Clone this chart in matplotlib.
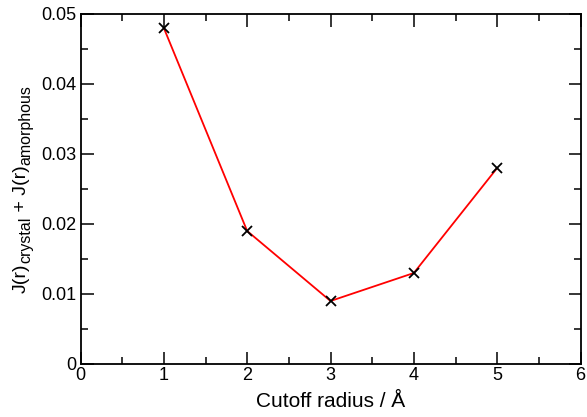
import matplotlib
matplotlib.use("Agg")
import matplotlib.pyplot as plt
from matplotlib.ticker import MultipleLocator

plt.rcParams['font.family'] = ['Liberation Sans', 'DejaVu Sans']

cutoff = [1, 2, 3, 4, 5]
j_sum = [0.048, 0.019, 0.009, 0.013, 0.028]
ytick_vals = [0, 0.01, 0.02, 0.03, 0.04, 0.05]
ytick_labels = ['0', '0.01', '0.02', '0.03', '0.04', '0.05']
xlabel_text = 'Cutoff radius / Å'
ylabel_parts = [('J(r)', False), ('crystal', True), (' + J(r)', False), ('amorphous', True)]

W, H = 587, 417
fig = plt.figure(figsize=(W/100, H/100), dpi=100)
ax = fig.add_axes([80.5/W, 1-364/H, 500/W, 350/H])

ax.plot(cutoff, j_sum, color='red', lw=1.3, zorder=2)
ax.plot(cutoff, j_sum, ls='none', marker='x', color='black', ms=6.5, mew=1.3, zorder=3)

ax.set_xlim(0, 6)
ax.set_ylim(0, 0.05)
ax.xaxis.set_major_locator(MultipleLocator(1))
ax.xaxis.set_minor_locator(MultipleLocator(0.5))
ax.yaxis.set_minor_locator(MultipleLocator(0.005))
ax.set_yticks(ytick_vals)
ax.set_yticklabels(ytick_labels)

ax.tick_params(which='both', direction='in', top=True, right=True, labelsize=13, width=1.1)
ax.tick_params(axis='x', pad=2)
ax.tick_params(axis='y', pad=3)
ax.tick_params(which='major', length=9)
ax.tick_params(which='minor', length=5)
for s in ax.spines.values():
    s.set_linewidth(1.3)

# x label
fig.text((80.5 + 250) / W, 1 - 407/H, xlabel_text, fontsize=15, ha='center', va='baseline')

# y label composed of pieces with larger subscripts, centred on the axes
fig.canvas.draw()
renderer = fig.canvas.get_renderer()
main_fs, sub_fs = 14, 11.5
base_x = 25.5
sub_shift = 4.5
texts = []
for txt, is_sub in ylabel_parts:
    fs = sub_fs if is_sub else main_fs
    bx = base_x + (sub_shift if is_sub else 0)
    t = fig.text(bx / W, 0.5, txt, fontsize=fs, rotation=90,
                 rotation_mode='anchor', ha='left', va='baseline')
    texts.append(t)
lengths = [t.get_window_extent(renderer).height for t in texts]
total = sum(lengths)
y_cur = 189 + total / 2
for t, L in zip(texts, lengths):
    t.set_y(1 - y_cur / H)
    y_cur -= L

fig.savefig('out.png', dpi=100)
